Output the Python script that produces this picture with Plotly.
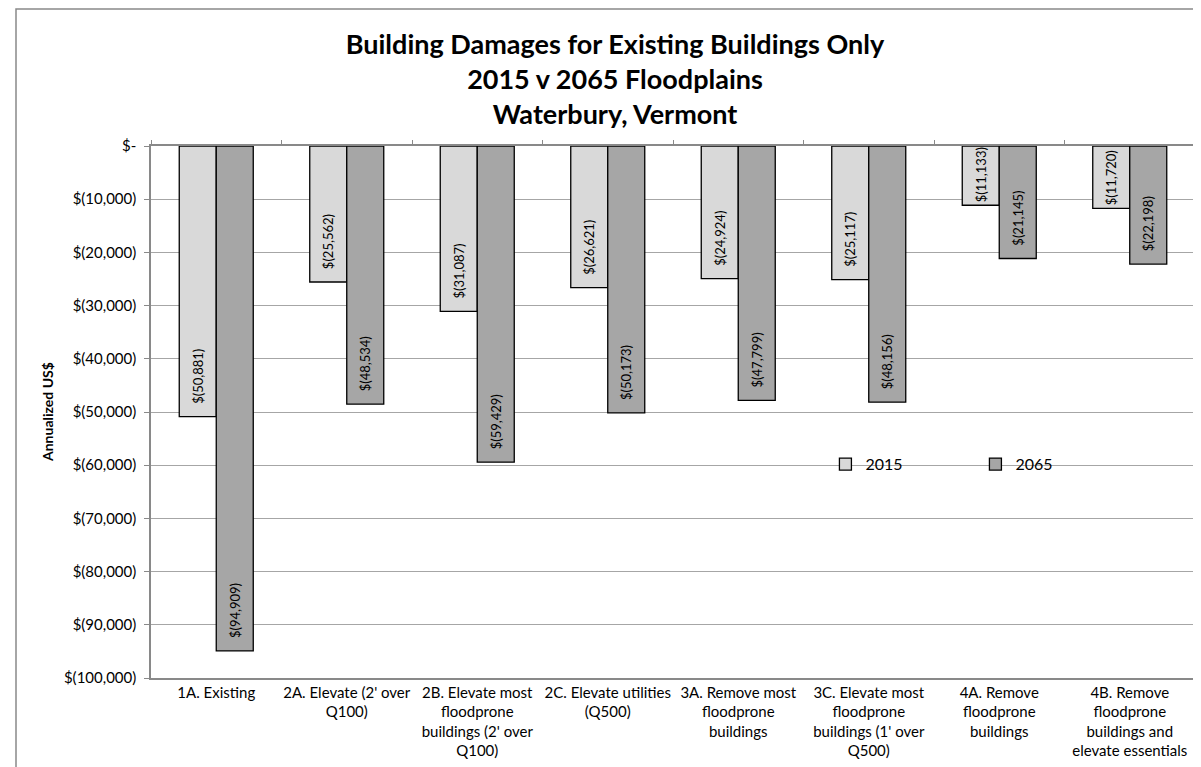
import plotly.graph_objects as go

categories = [
    "1A. Existing",
    "2A. Elevate (2' over<br>Q100)",
    "2B. Elevate most<br>floodprone<br>buildings (2' over<br>Q100)",
    "2C. Elevate utilities<br>(Q500)",
    "3A. Remove most<br>floodprone<br>buildings",
    "3C. Elevate most<br>floodprone<br>buildings (1' over<br>Q500)",
    "4A. Remove<br>floodprone<br>buildings",
    "4B. Remove<br>floodprone<br>buildings and<br>elevate essentials",
]
damages_2015 = [-50881, -25562, -31087, -26621, -24924, -25117, -11133, -11720]
damages_2065 = [-94909, -48534, -59429, -50173, -47799, -48156, -21145, -22198]
y_ticks = [0, -10000, -20000, -30000, -40000, -50000, -60000, -70000, -80000, -90000, -100000]


def money(v):
    return "$-" if v == 0 else f"$({abs(v):,})"


FONT = "Lato, Carlito, Calibri, sans-serif"
PAD = "\u2002\u00a0"  # gap between bar tip and its label (only where the label fits)


def label(v):
    return (PAD if abs(v) > 15000 else "") + money(v)


fig = go.Figure()
for name, vals, color in [("2015", damages_2015, "#d9d9d9"), ("2065", damages_2065, "#a6a6a6")]:
    fig.add_trace(go.Bar(
        name=name, x=categories, y=vals,
        marker=dict(color=color, line=dict(color="#000000", width=1.3)),
        text=[label(v) for v in vals],
        textposition="inside", insidetextanchor="end", textangle=-90,
        textfont=dict(family=FONT, size=13, color="#000000"),
        constraintext="none", cliponaxis=False,
    ))
fig.add_trace(go.Bar(x=categories, y=[None] * len(categories), xaxis="x2",
                     showlegend=False, hoverinfo="skip"))

fig.update_layout(
    width=1201, height=767, autosize=False,
    paper_bgcolor="white", plot_bgcolor="white",
    margin=dict(l=143, r=14, t=138, b=97, autoexpand=False),
    barmode="group", bargap=0.433, bargroupgap=0,
    uniformtext=dict(minsize=13, mode="show"),
    font=dict(family=FONT, size=15, color="#000000"),
    title=dict(
        text="<b>Building Damages for Existing Buildings Only<br>2015 v 2065 Floodplains<br>Waterbury, Vermont</b>",
        x=607 / 1201, xanchor="center", xref="container",
        y=1 - 46 / 767, yanchor="top", yref="container",
        font=dict(family=FONT, size=27, color="#000000"),
    ),
    legend=dict(
        orientation="h", x=0.646, y=0.402, xanchor="left", yanchor="middle",
        bgcolor="rgba(0,0,0,0)", font=dict(family=FONT, size=16),
        entrywidth=105, entrywidthmode="pixels", traceorder="normal",
    ),
    xaxis=dict(
        type="category", categoryorder="array", categoryarray=categories,
        showline=True, linecolor="#898989", linewidth=1.5, mirror=True,
        ticks="", showgrid=False, tickfont=dict(family=FONT, size=15),
        automargin=False,
    ),
    xaxis2=dict(
        type="category", categoryorder="array", categoryarray=categories,
        overlaying="x", matches="x", side="top", showticklabels=False,
        ticks="outside", tickson="boundaries", ticklen=5, tickcolor="#898989",
        showline=False, showgrid=False, automargin=False,
    ),
    yaxis=dict(
        range=[-100000, 0], tickvals=y_ticks, ticktext=[money(v) for v in y_ticks],
        showline=True, linecolor="#898989", linewidth=1.5, mirror=True,
        ticks="outside", ticklen=5, tickcolor="#898989", ticklabelstandoff=5,
        showgrid=True, gridcolor="#a6a6a6", gridwidth=1, zeroline=False,
        tickfont=dict(family=FONT, size=15), automargin=False,
    ),
    annotations=[dict(
        text="<b>Annualized US$</b>", xref="paper", yref="paper",
        x=(39 - 143) / 1044, y=0.5, xanchor="center", yanchor="middle",
        textangle=-90, showarrow=False, font=dict(family=FONT, size=14),
    )],
    shapes=[dict(
        type="rect", xref="paper", yref="paper",
        x0=(8 - 143) / 1044, x1=(1215 - 143) / 1044,
        y0=(670 - 790) / 532, y1=(670 - 1) / 532,
        line=dict(color="#898989", width=1.5), fillcolor="rgba(0,0,0,0)", layer="below",
    )],
)

fig.write_html("out.html")
